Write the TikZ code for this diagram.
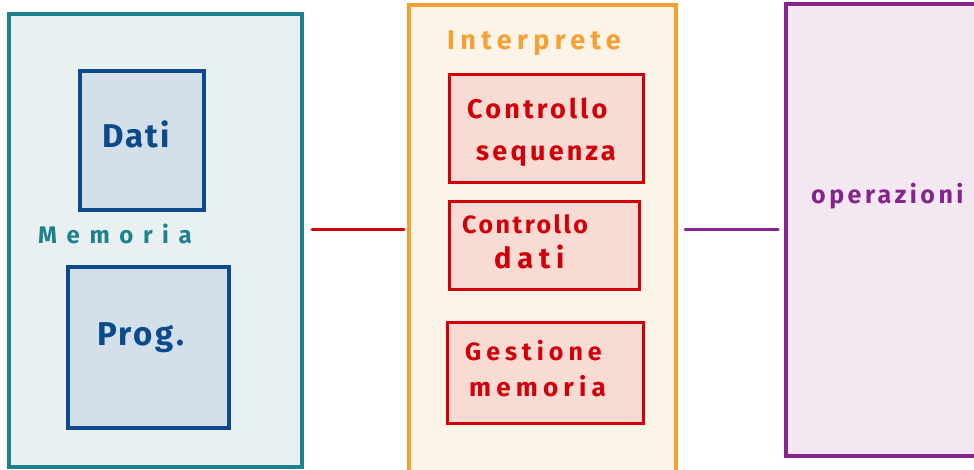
\documentclass[tikz,border=0pt]{standalone}
\usepackage{fontspec}
\setmainfont{Fira Sans}
\definecolor{memline}{RGB}{30,130,140}
\definecolor{memfill}{RGB}{232,240,242}
\definecolor{blkline}{RGB}{12,74,140}
\definecolor{blkfill}{RGB}{211,224,233}
\definecolor{intline}{RGB}{245,160,50}
\definecolor{intfill}{RGB}{253,244,232}
\definecolor{unitline}{RGB}{210,0,10}
\definecolor{unitfill}{RGB}{248,220,211}
\definecolor{opline}{RGB}{135,35,140}
\definecolor{opfill}{RGB}{243,231,242}
\newcommand{\handsize}[2]{\fontsize{#1}{#1}\selectfont\bfseries\addfontfeature{LetterSpace=#2}}
\tikzset{
  outerbox/.style={draw, line width=4pt, rectangle, inner sep=0pt},
  innerbox/.style={draw=blkline, fill=blkfill, line width=3.5pt, rectangle, inner sep=0pt},
  unitbox/.style={draw=unitline, fill=unitfill, line width=3pt, rectangle, inner sep=0pt},
  link/.style={line width=3pt, line cap=round},
  hand/.style={inner sep=0pt, anchor=base west},
}
\begin{document}
\begin{tikzpicture}[x=1pt,y=-1pt]
\clip (0,0) rectangle (974,469);
\fill[white] (0,0) rectangle (974,469);

% memory block
\node[outerbox, draw=memline, fill=memfill, minimum width=293pt, minimum height=453pt] (mem) at (155,240) {};
\node[innerbox, minimum width=124pt, minimum height=139pt] (dati) at (142,140.5) {};
\node[hand, text=blkline, font=\handsize{33}{6}] (datitxt) at (102,147) {Dati};
\node[hand, text=memline, font=\handsize{24}{40}] (memtxt) at (38,243) {Memoria};
\node[innerbox, minimum width=161pt, minimum height=161pt] (prog) at (148.5,347.5) {};
\node[hand, text=blkline, font=\handsize{33}{8}] (progtxt) at (97,345) {Prog.};

% interpreter block
\node[outerbox, draw=intline, fill=intfill, minimum width=267pt, minimum height=470pt] (interp) at (542.5,240) {};
\node[hand, text=intline, font=\handsize{27}{20}] (inttxt) at (447,49) {Interprete};
\node[unitbox, minimum width=194pt, minimum height=108pt] (seq) at (546,128) {};
\node[hand, text=unitline, font=\handsize{27}{12}] (seqtxt1) at (467,118) {Controllo};
\node[hand, text=unitline, font=\handsize{27}{12}] (seqtxt2) at (476,160) {sequenza};
\node[unitbox, minimum width=190pt, minimum height=88pt] (ctrl) at (544,245) {};
\node[hand, text=unitline, font=\handsize{25}{10}] (ctrltxt1) at (462,233) {Controllo};
\node[hand, text=unitline, font=\handsize{29}{20}] (ctrltxt2) at (494,268) {dati};
\node[unitbox, minimum width=196pt, minimum height=101pt] (gest) at (545,372.5) {};
\node[hand, text=unitline, font=\handsize{25}{20}] (gesttxt1) at (465,360) {Gestione};
\node[hand, text=unitline, font=\handsize{26}{20}] (gesttxt2) at (469,396) {memoria};

% operations block
\node[outerbox, draw=opline, fill=opfill, minimum width=220pt, minimum height=452pt] (ops) at (896,230) {};
\node[hand, text=opline, font=\handsize{25}{14}] (opstxt) at (811,203) {operazioni};

% connectors
\coordinate (busy) at (0,229);
\draw[link, draw=unitline, shorten <=8.5pt, shorten >=3pt] (mem.east |- busy) -- (interp.west |- busy);
\draw[link, draw=opline, shorten <=7pt, shorten >=6pt] (interp.east |- busy) -- (ops.west |- busy);
\end{tikzpicture}
\end{document}
